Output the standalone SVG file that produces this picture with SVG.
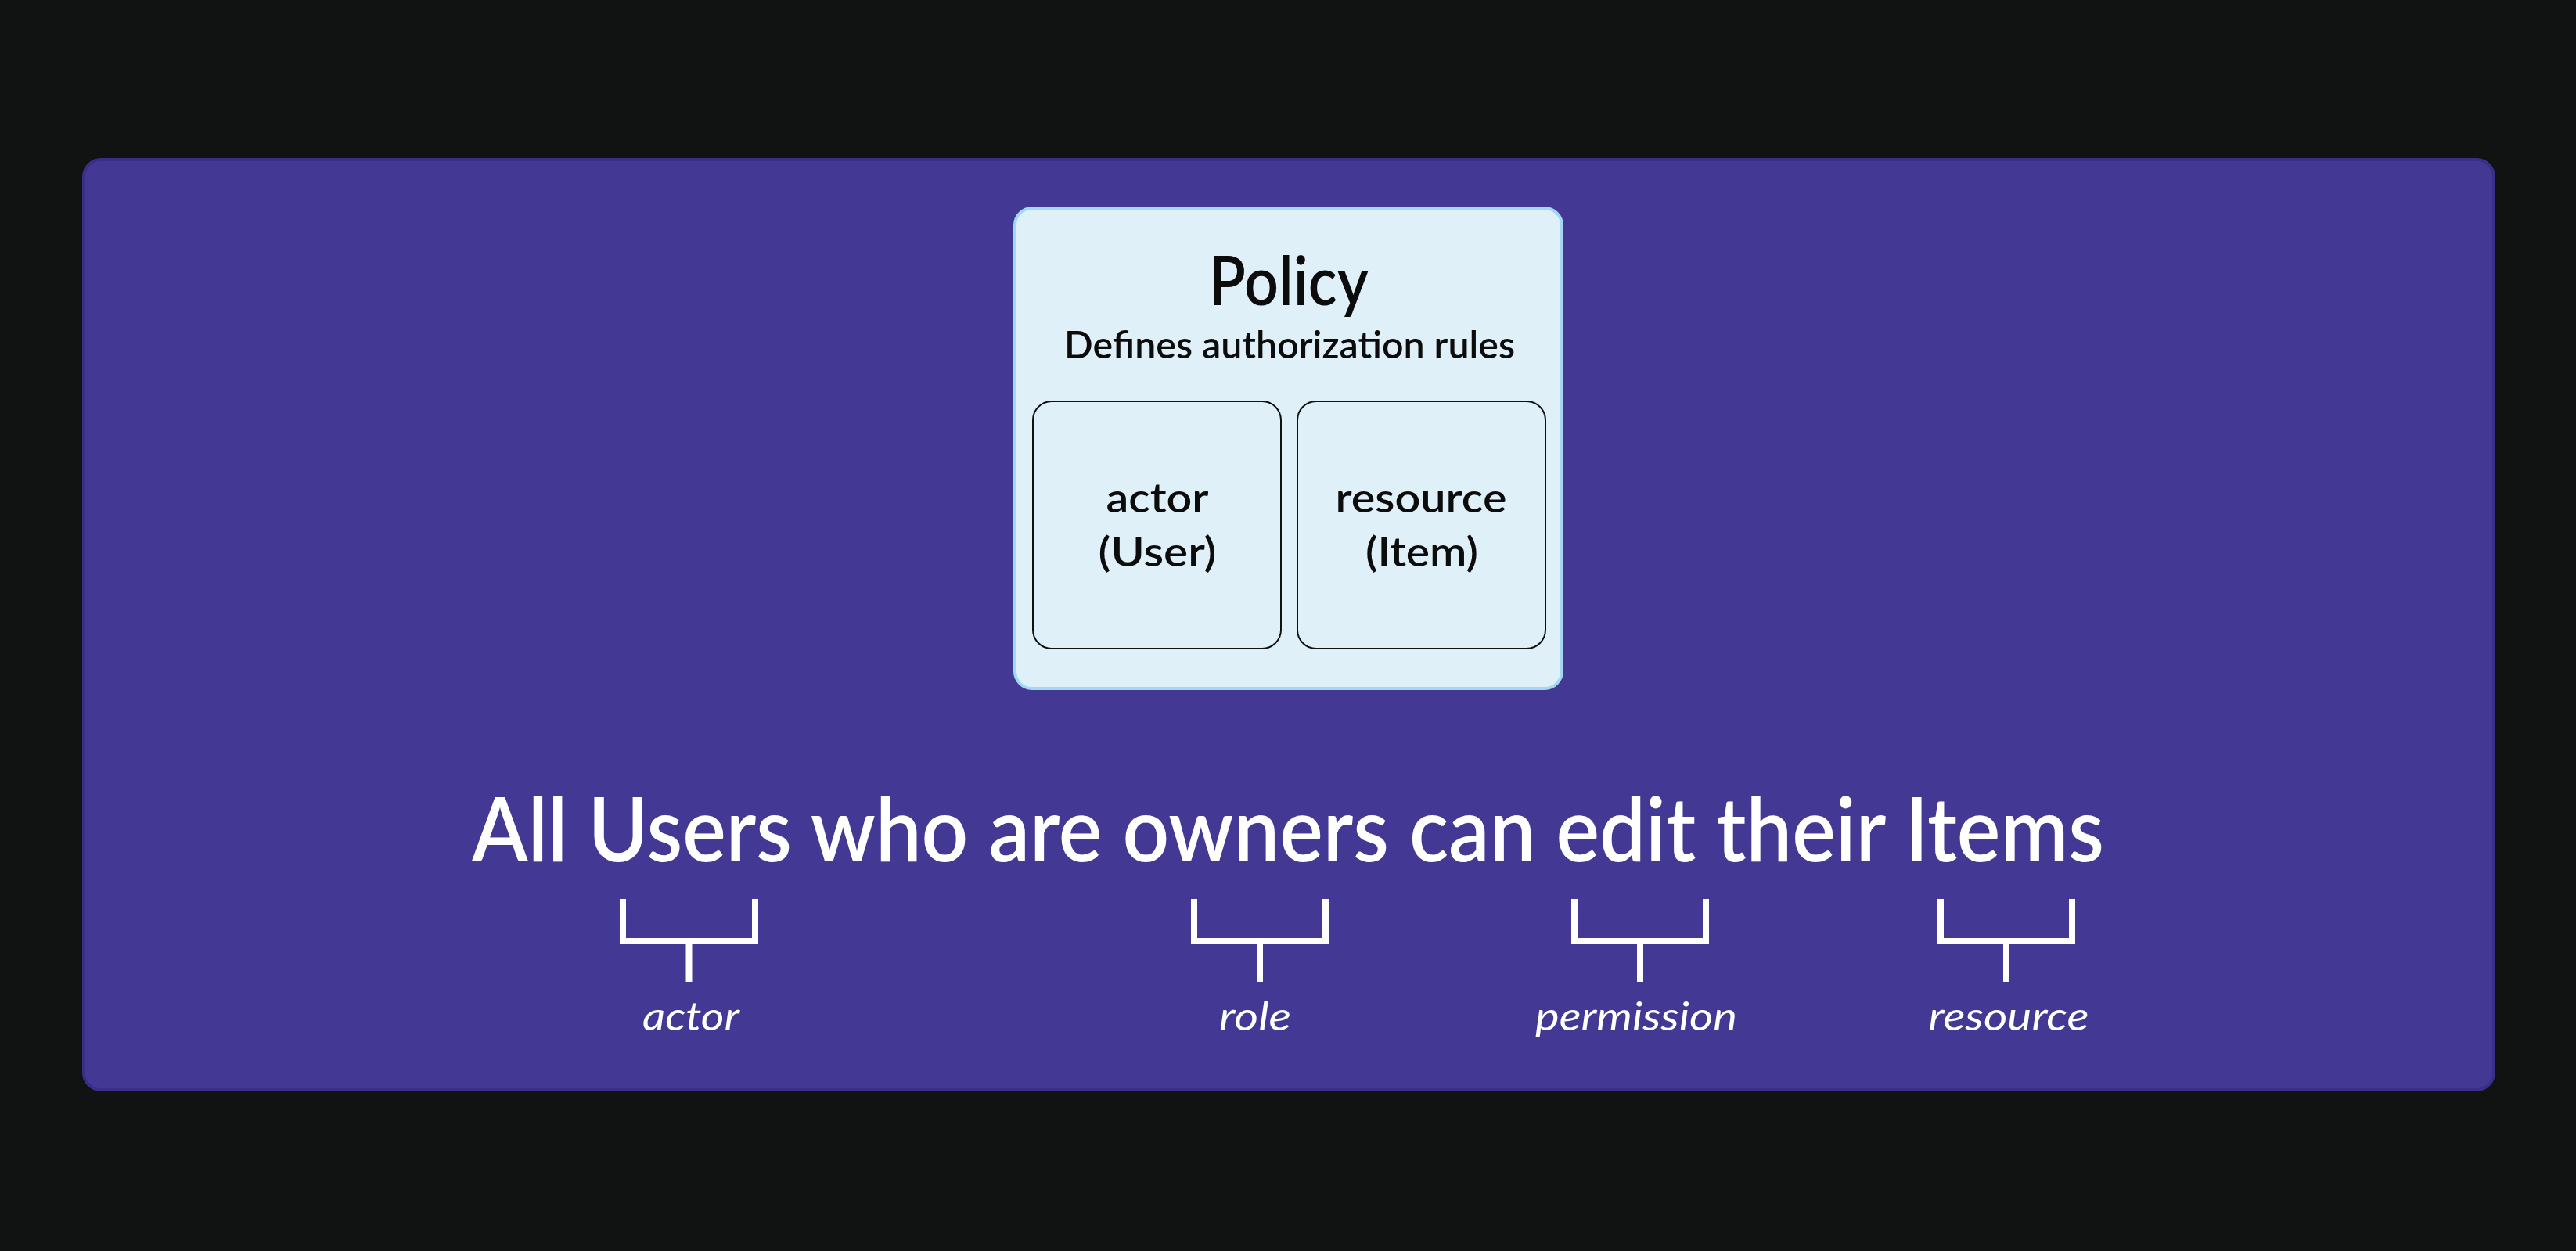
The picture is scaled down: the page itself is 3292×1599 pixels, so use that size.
<svg xmlns="http://www.w3.org/2000/svg" width="3292" height="1599" viewBox="0 0 3292 1599">
<style>
.bg{fill:#111312}
.panel{fill:#433994;stroke:#3a2e88;stroke-width:4}
.policy{fill:#e0f0f8;stroke:#a3d8f2;stroke-width:4}
.inner{fill:#e0f0f8;stroke:#111111;stroke-width:2}
.dk{fill:#0c0c0c;font-family:Lato,"Noto Sans",sans-serif;text-anchor:middle;font-weight:600}
.wt{fill:#ffffff;font-family:Lato,"Noto Sans",sans-serif;text-anchor:middle;font-weight:600}
.lbl{font-style:italic;font-size:50px;font-weight:400}
.br{fill:none;stroke:#ffffff;stroke-width:8}
</style>
<rect class="bg" x="0" y="0" width="3292" height="1599"/>
<g id="panel">
<rect class="panel" x="107" y="204" width="3080" height="1189" rx="22"/>
</g>
<g id="policy">
<rect class="policy" x="1297" y="266" width="699" height="614" rx="22"/>
<text class="dk" x="1647" y="390" font-size="86" textLength="204" lengthAdjust="spacingAndGlyphs">Policy</text>
<text class="dk" x="1648" y="458" font-size="48" textLength="576" lengthAdjust="spacingAndGlyphs">Defines authorization rules</text>
</g>
<g id="actor-box">
<rect class="inner" x="1320" y="513" width="317" height="316" rx="24"/>
<text class="dk" x="1479" y="655" font-size="52" textLength="131" lengthAdjust="spacingAndGlyphs">actor</text>
<text class="dk" x="1479" y="724" font-size="52" textLength="151" lengthAdjust="spacingAndGlyphs">(User)</text>
</g>
<g id="resource-box">
<rect class="inner" x="1658" y="513" width="317" height="316" rx="24"/>
<text class="dk" x="1816" y="655" font-size="52" textLength="219" lengthAdjust="spacingAndGlyphs">resource</text>
<text class="dk" x="1817" y="724" font-size="52" textLength="144" lengthAdjust="spacingAndGlyphs">(Item)</text>
</g>
<g id="sentence">
<text class="wt" x="1646" y="1101" font-size="114" textLength="2086" lengthAdjust="spacingAndGlyphs">All Users who are owners can edit their Items</text>
</g>
<g id="connectors">
<path class="br" d="M796 1149 V1203 H965 V1149 M880.5 1203 V1255"/>
<path class="br" d="M1526 1149 V1203 H1694 V1149 M1610 1203 V1255"/>
<path class="br" d="M2012 1149 V1203 H2180 V1149 M2096 1203 V1255"/>
<path class="br" d="M2480 1149 V1203 H2648 V1149 M2564 1203 V1255"/>
</g>
<g id="label-actor"><text class="wt lbl" x="883" y="1317" textLength="124" lengthAdjust="spacingAndGlyphs">actor</text></g>
<g id="label-role"><text class="wt lbl" x="1604" y="1317" textLength="92" lengthAdjust="spacingAndGlyphs">role</text></g>
<g id="label-permission"><text class="wt lbl" x="2091" y="1317" textLength="258" lengthAdjust="spacingAndGlyphs">permission</text></g>
<g id="label-resource"><text class="wt lbl" x="2567" y="1317" textLength="205" lengthAdjust="spacingAndGlyphs">resource</text></g>
</svg>
